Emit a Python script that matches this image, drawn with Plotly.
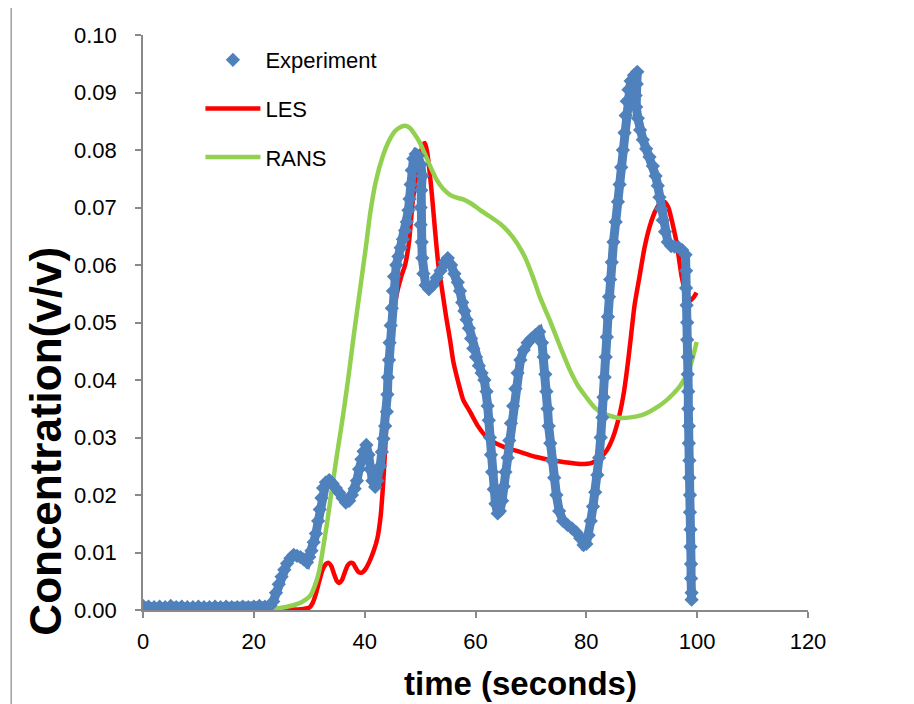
import plotly.graph_objects as go

# ---------------- data ----------------
t_exp = [0, 1, 2, 3, 4, 5, 6, 7, 8, 9, 10, 11, 12, 13, 14, 15, 16, 17, 18, 19, 20, 21, 22, 23,
         23.5, 24.0, 24.5, 25.0, 25.5, 26.0, 26.6, 27.2, 27.8, 28.4, 29.0, 29.6, 30.0, 30.4, 30.8,
         31.2, 31.6, 31.9, 32.2, 32.5, 33.0, 33.6, 34.2, 34.8, 35.4, 36.0, 36.6, 37.2, 37.7, 38.2,
         38.6, 39.0, 39.4, 39.8, 40.3, 40.7, 41.0, 41.4, 41.9, 42.3, 42.8, 43.1, 43.4, 43.7, 44.0,
         44.1, 44.2, 44.4, 44.5, 44.7, 44.9, 45.1, 45.3, 45.7, 46.1, 46.5, 46.9, 47.3, 47.6, 47.9,
         48.1, 48.3, 48.5, 48.8, 49.2, 49.6, 50.1, 50.4, 50.2, 50.1, 50.1, 50.3, 50.4, 50.6, 51.0,
         51.6, 52.3, 53.0, 53.7, 54.4, 55.0, 55.6, 56.2, 56.8, 57.2, 57.6, 58.0, 58.4, 58.8, 59.2,
         59.6, 60.1, 60.6, 61.1, 61.6, 62.0, 62.2, 62.4, 62.6, 62.8, 63.0, 63.3, 63.6, 64.0, 64.4,
         64.8, 65.1, 65.4, 65.8, 66.1, 66.4, 66.8, 67.2, 67.6, 68.1, 68.7, 69.4, 70.1, 70.8, 71.5,
         72.0, 72.3, 72.6, 72.8, 73.0, 73.2, 73.5, 73.8, 74.2, 74.6, 75.1, 75.8, 76.6, 77.4, 78.2,
         78.9, 79.5, 80.0, 80.4, 80.8, 81.2, 81.6, 82.0, 82.3, 82.6, 82.9, 83.1, 83.3, 83.5, 83.7,
         83.9, 84.1, 84.3, 84.6, 84.9, 85.3, 85.7, 86.0, 86.3, 86.6, 86.9, 87.1, 87.3, 87.6, 88.0,
         88.6, 89.2, 89.1, 88.9, 89.0, 89.3, 89.7, 90.2, 90.8, 91.4, 92.0, 92.5, 92.9, 93.2, 93.5,
         93.8, 94.2, 94.7, 95.3, 95.9, 96.6, 97.3, 97.9, 98.0, 98.0, 98.1, 98.2, 98.2, 98.3, 98.3,
         98.4, 98.4, 98.5, 98.5, 98.6, 98.6, 98.7, 98.7, 98.8, 98.8, 98.9, 98.9, 99.0, 99.0]
c_exp = [0.0007, 0.0006, 0.0005, 0.0006, 0.0005, 0.0007, 0.0005, 0.0006, 0.0005, 0.0005, 0.0006,
         0.0005, 0.0005, 0.0006, 0.0005, 0.0006, 0.0005, 0.0005, 0.0006, 0.0005, 0.0006, 0.0007,
         0.0006, 0.0008,
         0.0015, 0.0030, 0.0045, 0.0058, 0.0070, 0.0081, 0.0090, 0.0096, 0.0094, 0.0092, 0.0088,
         0.0083, 0.0092, 0.0103, 0.0118, 0.0133, 0.0155, 0.0175, 0.0195, 0.0212, 0.0222, 0.0226,
         0.0220, 0.0212, 0.0204, 0.0195, 0.0187, 0.0190, 0.0200, 0.0211, 0.0225, 0.0245, 0.0262,
         0.0276, 0.0287, 0.0270, 0.0245, 0.0225, 0.0214, 0.0225, 0.0250, 0.0275, 0.0298, 0.0320,
         0.0345, 0.0375, 0.0405, 0.0435, 0.0465, 0.0495, 0.0525, 0.0555, 0.0580, 0.0600, 0.0615,
         0.0630, 0.0645, 0.0660, 0.0675, 0.0695, 0.0715, 0.0740, 0.0765, 0.0785, 0.0793, 0.0790,
         0.0775, 0.0755, 0.0730, 0.0700, 0.0670, 0.0640, 0.0612, 0.0585, 0.0565, 0.0558, 0.0565,
         0.0578, 0.0590, 0.0605, 0.0612, 0.0600, 0.0585, 0.0570, 0.0555, 0.0535, 0.0520, 0.0505,
         0.0490, 0.0472, 0.0455, 0.0440, 0.0425, 0.0412, 0.0400, 0.0380, 0.0355, 0.0330, 0.0300,
         0.0270, 0.0240, 0.0210, 0.0185, 0.0168, 0.0172, 0.0190, 0.0215, 0.0240, 0.0265, 0.0295,
         0.0325, 0.0355, 0.0385, 0.0412, 0.0435, 0.0452, 0.0465, 0.0472, 0.0478, 0.0484, 0.0465,
         0.0440, 0.0410, 0.0380, 0.0350, 0.0320, 0.0290, 0.0260, 0.0230, 0.0200, 0.0172, 0.0155,
         0.0148, 0.0142, 0.0135, 0.0125, 0.0113, 0.0115, 0.0130, 0.0155, 0.0180, 0.0205, 0.0235,
         0.0265, 0.0300, 0.0335, 0.0370, 0.0405, 0.0440, 0.0475, 0.0510, 0.0545, 0.0575, 0.0605,
         0.0640, 0.0675, 0.0710, 0.0740, 0.0770, 0.0800, 0.0830, 0.0860, 0.0885, 0.0905, 0.0920,
         0.0930, 0.0936, 0.0915, 0.0895, 0.0875, 0.0855, 0.0835, 0.0818, 0.0802, 0.0788, 0.0772,
         0.0755, 0.0738, 0.0718, 0.0698, 0.0678, 0.0658, 0.0640, 0.0633, 0.0632, 0.0631, 0.0626,
         0.0618, 0.0590, 0.0560, 0.0530, 0.0500, 0.0470, 0.0440, 0.0410, 0.0380, 0.0350, 0.0320,
         0.0290, 0.0260, 0.0230, 0.0200, 0.0170, 0.0140, 0.0110, 0.0080, 0.0055, 0.0030, 0.0018]

t_les = [0, 10, 20, 25, 27, 28, 29, 30, 30.6, 31.2, 31.8, 32.4, 33.0, 33.5, 34.0, 34.5, 35.0,
         35.4, 35.9, 36.4, 36.9, 37.4, 37.9, 38.4, 38.9, 39.5, 40.2, 40.9, 41.6, 42.3, 42.9,
         43.3, 43.7, 44.1, 44.5, 45.0, 45.8, 46.6, 47.3, 48.0, 48.7, 49.4, 50.0, 50.5, 50.9,
         51.3, 51.8, 52.2, 52.7, 53.3, 54.0, 54.7, 55.4, 56.0, 57.0, 57.8, 59.0, 60.3, 61.7,
         63.3, 65.0, 68.0, 71.0, 74.0, 77.0, 79.0, 81.0, 82.5, 83.7, 84.8, 86.0, 86.8, 87.5,
         88.1, 88.7, 89.6, 90.5, 91.4, 92.5, 93.4, 94.1, 94.8, 95.6, 96.3, 97.2, 98.0, 98.7,
         99.3, 99.9]
c_les = [0.0, 0.0, 0.0, 0.0, 0.0001, 0.0001, 0.0002, 0.0004, 0.0012, 0.0028, 0.0050, 0.0070,
         0.0080, 0.0082, 0.0076, 0.0062, 0.0050, 0.0047, 0.0052, 0.0065, 0.0077, 0.0082, 0.0081,
         0.0073, 0.0066, 0.0065, 0.0072, 0.0085, 0.0102, 0.0125, 0.0165, 0.0215, 0.0280, 0.0360,
         0.0440, 0.0500, 0.0550, 0.0580, 0.0600, 0.0640, 0.0713, 0.0760, 0.0790, 0.0808, 0.0812,
         0.0795, 0.0755, 0.0715, 0.0660, 0.0600, 0.0555, 0.0510, 0.0470, 0.0432, 0.0392, 0.0365,
         0.0345, 0.0322, 0.0304, 0.0292, 0.0284, 0.0275, 0.0266, 0.0260, 0.0256, 0.0254, 0.0256,
         0.0265, 0.0278, 0.0300, 0.0340, 0.0380, 0.0430, 0.0480, 0.0530, 0.0580, 0.0630, 0.0666,
         0.0695, 0.0708, 0.0710, 0.0700, 0.0670, 0.0638, 0.0580, 0.0550, 0.0538, 0.0543, 0.0552]

t_rans = [0, 10, 20, 23, 25, 26.6, 28, 29, 30.2, 31, 31.8, 32.5, 33.2, 34, 35, 36, 37, 38, 39.2,
          40.2, 41.0, 42.0, 43.3, 44.5, 45.5, 46.5, 47.3, 48.2, 49.0, 50.0, 51.0, 52.0, 53.0,
          54.2, 55.4, 56.6, 57.8, 59.2, 60.8, 62.5, 64.4, 66.0, 67.5, 69.0, 70.4, 71.6, 73.4,
          75.2, 77.0, 78.5, 80.0, 81.5, 83.0, 84.5, 86.0, 88.0, 90.0, 91.4, 93.0, 94.5, 95.7,
          96.8, 97.6, 98.3, 99.0, 99.5, 99.9]
c_rans = [0.0, 0.0, 0.0, 0.0001, 0.0004, 0.0007, 0.0011, 0.0016, 0.0025, 0.0042, 0.0068,
          0.0108, 0.0150, 0.0205, 0.0270, 0.0332, 0.0400, 0.0475, 0.0560, 0.0630, 0.0690,
          0.0745, 0.0790, 0.0818, 0.0833, 0.0840, 0.0842, 0.0838, 0.0828, 0.0812, 0.0790,
          0.0768, 0.0748, 0.0732, 0.0722, 0.0717, 0.0714, 0.0707, 0.0696, 0.0685, 0.0672,
          0.0657, 0.0638, 0.0612, 0.0578, 0.0545, 0.0504, 0.0460, 0.0418, 0.0390, 0.0370,
          0.0352, 0.0342, 0.0337, 0.0334, 0.0335, 0.0339, 0.0345, 0.0354, 0.0365, 0.0376,
          0.0388, 0.0400, 0.0412, 0.0432, 0.0450, 0.0466]

x_ticks = [0, 20, 40, 60, 80, 100, 120]
y_ticks = [0.00, 0.01, 0.02, 0.03, 0.04, 0.05, 0.06, 0.07, 0.08, 0.09, 0.10]

BLUE = "#4F81BD"
RED = "#FF0000"
GREEN = "#92D050"
AXIS = "#898989"
FONT = "Liberation Sans"

# page offset of the figure (browser body margin)
OFF = 8
# plot area in page pixels
PX_L, PX_R, PY_T, PY_B = 142.5, 808.5, 35.0, 610.0
PW, PH = PX_R - PX_L, PY_B - PY_T


def px(p):
    return (p - PX_L) / PW


def py(p):
    return (PY_B - p) / PH


fig = go.Figure()

fig.add_trace(go.Scatter(x=t_les, y=c_les, mode="lines", name="LES",
                         line=dict(color=RED, width=4.5, shape="spline", smoothing=0.6),
                         legendgroup="les", legendrank=2))
fig.add_trace(go.Scatter(x=t_rans, y=c_rans, mode="lines", name="RANS",
                         line=dict(color=GREEN, width=4.5, shape="spline", smoothing=0.6),
                         legendgroup="rans", legendrank=3))
fig.add_trace(go.Scatter(x=t_exp, y=c_exp, mode="lines", name="Experiment",
                         line=dict(color=BLUE, width=9), showlegend=False,
                         legendgroup="exp", hoverinfo="skip"))
fig.add_trace(go.Scatter(x=t_exp, y=c_exp, mode="markers", name="Experiment",
                         marker=dict(symbol="diamond", size=11, color=BLUE),
                         legendgroup="exp", legendrank=1))

axis_common = dict(showgrid=False, zeroline=False, showline=True, linecolor=AXIS,
                   linewidth=1.5, ticks="outside", tickcolor=AXIS, ticklen=6, tickwidth=1.5,
                   tickfont=dict(family=FONT, size=22, color="black"))

fig.update_xaxes(range=[0, 120], tickvals=x_ticks, ticktext=[str(v) for v in x_ticks],
                 ticklabelstandoff=5, **axis_common)
fig.update_yaxes(range=[0, 0.10], tickvals=y_ticks, ticktext=[f"{v:.2f}" for v in y_ticks],
                 ticklabelstandoff=14, **axis_common)

fig.add_annotation(text="<b>time (seconds)</b>", xref="paper", yref="paper",
                   x=px(521), y=py(683), xanchor="center", yanchor="middle",
                   showarrow=False, font=dict(family=FONT, size=33, color="black"))
fig.add_annotation(text="<b>Concentration(v/v)</b>", xref="paper", yref="paper",
                   x=px(44), y=py(441), xanchor="center", yanchor="middle",
                   textangle=-90, showarrow=False, font=dict(family=FONT, size=44, color="black"))

fig.add_shape(type="line", xref="paper", yref="paper",
              x0=px(10.5), x1=px(10.5), y0=py(704), y1=py(OFF),
              line=dict(color="#A0A0A0", width=1.5), layer="above")

fig.update_layout(
    width=914 - OFF, height=704 - OFF,
    margin=dict(l=PX_L - OFF, r=(914 - OFF) - (PX_R - OFF), t=PY_T - OFF,
                b=(704 - OFF) - (PY_B - OFF), autoexpand=False),
    paper_bgcolor="white", plot_bgcolor="white",
    font=dict(family=FONT, color="black"),
    legend=dict(x=px(200), y=py(39), xanchor="left", yanchor="top",
                bgcolor="rgba(0,0,0,0)", font=dict(family=FONT, size=22, color="black"),
                itemwidth=55, tracegroupgap=17),
    showlegend=True,
)

fig.write_html("out.html")
